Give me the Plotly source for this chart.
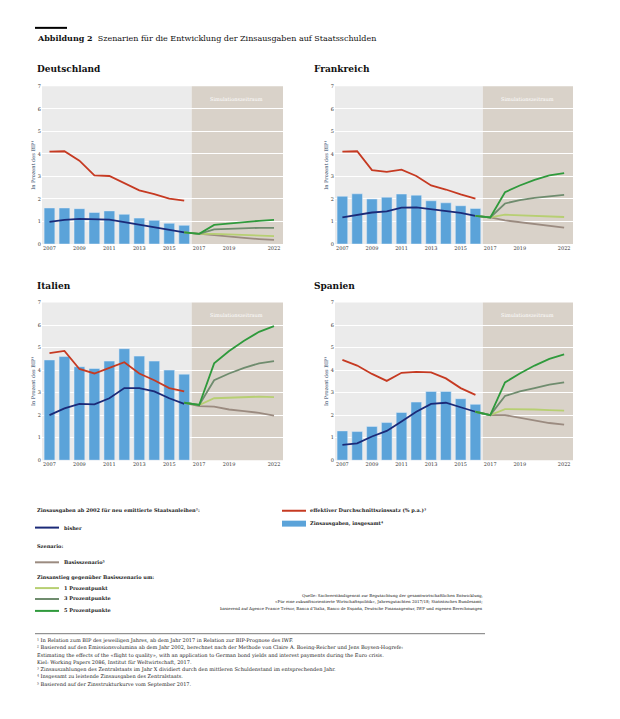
import plotly.graph_objects as go

hist_years = list(range(2007, 2017))
scen_years = list(range(2016, 2023))
countries = ["Deutschland", "Frankreich", "Italien", "Spanien"]

bars = {
    "Deutschland": [1.6, 1.6, 1.57, 1.4, 1.47, 1.32, 1.15, 1.05, 0.92, 0.83],
    "Frankreich": [2.12, 2.23, 2.0, 2.08, 2.22, 2.17, 1.92, 1.83, 1.7, 1.58],
    "Italien": [4.45, 4.6, 4.15, 4.07, 4.4, 4.95, 4.62, 4.4, 4.0, 3.82],
    "Spanien": [1.3, 1.27, 1.5, 1.67, 2.12, 2.58, 3.05, 3.05, 2.73, 2.48],
}
red = {
    "Deutschland": [4.1, 4.12, 3.7, 3.05, 3.02, 2.7, 2.38, 2.22, 2.02, 1.93],
    "Frankreich": [4.1, 4.12, 3.28, 3.2, 3.3, 3.02, 2.6, 2.42, 2.2, 2.02],
    "Italien": [4.75, 4.85, 4.05, 3.85, 4.1, 4.35, 3.85, 3.55, 3.2, 3.05],
    "Spanien": [4.45, 4.2, 3.83, 3.52, 3.88, 3.92, 3.9, 3.63, 3.2, 2.9],
}
bisher = {
    "Deutschland": [0.98, 1.07, 1.12, 1.1, 1.08, 0.97, 0.85, 0.75, 0.63, 0.52],
    "Frankreich": [1.18, 1.3, 1.4, 1.45, 1.62, 1.63, 1.55, 1.48, 1.38, 1.25],
    "Italien": [2.0, 2.3, 2.5, 2.48, 2.75, 3.2, 3.2, 3.05, 2.75, 2.5],
    "Spanien": [0.68, 0.75, 1.05, 1.3, 1.72, 2.15, 2.5, 2.55, 2.35, 2.15],
}
basis = {
    "Deutschland": [0.52, 0.45, 0.38, 0.32, 0.27, 0.22, 0.18],
    "Frankreich": [1.25, 1.18, 1.05, 0.97, 0.88, 0.8, 0.73],
    "Italien": [2.55, 2.4, 2.38, 2.25, 2.18, 2.1, 1.98],
    "Spanien": [2.15, 2.0, 2.0, 1.88, 1.75, 1.65, 1.58],
}
pp1 = {
    "Deutschland": [0.52, 0.45, 0.45, 0.42, 0.4, 0.37, 0.35],
    "Frankreich": [1.25, 1.18, 1.3, 1.28, 1.26, 1.24, 1.2],
    "Italien": [2.55, 2.45, 2.75, 2.78, 2.8, 2.82, 2.8],
    "Spanien": [2.15, 2.0, 2.27, 2.27, 2.25, 2.22, 2.2],
}
pp3 = {
    "Deutschland": [0.52, 0.45, 0.65, 0.68, 0.7, 0.72, 0.72],
    "Frankreich": [1.25, 1.18, 1.8, 1.95, 2.05, 2.13, 2.18],
    "Italien": [2.55, 2.45, 3.55, 3.85, 4.1, 4.3, 4.4],
    "Spanien": [2.15, 2.0, 2.85, 3.05, 3.2, 3.35, 3.45],
}
pp5 = {
    "Deutschland": [0.52, 0.45, 0.85, 0.92, 0.97, 1.03, 1.07],
    "Frankreich": [1.25, 1.18, 2.3, 2.6, 2.85, 3.05, 3.15],
    "Italien": [2.55, 2.45, 4.3, 4.85, 5.3, 5.7, 5.95],
    "Spanien": [2.15, 2.0, 3.45, 3.85, 4.2, 4.5, 4.7],
}
x_ticks = [2007, 2009, 2011, 2013, 2015, 2017, 2019, 2022]
y_ticks = [0, 1, 2, 3, 4, 5, 6, 7]

C_BAR = "#5ba3d9"; C_RED = "#c63a22"; C_BLUE = "#1b2a78"; C_BASE = "#9b8b80"
C_P1 = "#b7cf72"; C_P3 = "#6f8c6e"; C_P5 = "#2f9a3c"
SERIF = "DejaVu Serif"

OFF = 8  # page body margin
W, H = 620 - OFF, 719 - OFF
def px(x): return (x - OFF) / W
def py(y): return 1 - (y - OFF) / H

panels = [
    ("Deutschland", (42, 283), (84, 243), 35, 66),
    ("Frankreich", (335, 573), (84, 243), 312, 66),
    ("Italien", (42, 283), (302, 461), 35, 285),
    ("Spanien", (335, 573), (302, 461), 312, 285),
]

fig = go.Figure()
annotations = []
shapes = []
for i, (c, (x0, x1), (y0, y1), tx, ty) in enumerate(panels):
    sfx = "" if i == 0 else str(i + 1)
    xa, ya = "x" + sfx, "y" + sfx
    fig.add_trace(go.Bar(x=hist_years, y=bars[c], marker_color=C_BAR, width=0.72, xaxis=xa, yaxis=ya, showlegend=False))
    fig.add_trace(go.Scatter(x=hist_years, y=red[c], mode="lines", line=dict(color=C_RED, width=1.8), xaxis=xa, yaxis=ya, showlegend=False))
    fig.add_trace(go.Scatter(x=hist_years, y=bisher[c], mode="lines", line=dict(color=C_BLUE, width=1.8), xaxis=xa, yaxis=ya, showlegend=False))
    for d, col in [(basis, C_BASE), (pp1, C_P1), (pp3, C_P3), (pp5, C_P5)]:
        fig.add_trace(go.Scatter(x=scen_years, y=d[c], mode="lines", line=dict(color=col, width=1.8), xaxis=xa, yaxis=ya, showlegend=False))
    axc = dict(showline=False, zeroline=False, ticks="", tickfont=dict(size=5, family=SERIF, color="#333"))
    fig.update_layout({
        "xaxis" + sfx: dict(axc, domain=[px(x0), px(x1)], range=[2006.5, 2022.6], tickvals=x_ticks, showgrid=False, anchor=ya),
        "yaxis" + sfx: dict(axc, domain=[py(y1), py(y0)], range=[0, 7], tickvals=y_ticks, showgrid=True, gridcolor="white", gridwidth=1, anchor=xa,
                            title=dict(text="In Prozent des BIP¹", font=dict(size=5, family=SERIF), standoff=2)),
    })
    shapes.append(dict(type="rect", xref=xa, yref=ya + " domain", x0=2006.5, x1=2016.5, y0=0, y1=1, fillcolor="#ebebeb", line_width=0, layer="below"))
    shapes.append(dict(type="rect", xref=xa, yref=ya + " domain", x0=2016.5, x1=2022.6, y0=0, y1=1, fillcolor="#d9d2c9", line_width=0, layer="below"))
    annotations.append(dict(xref=xa, yref=ya + " domain", x=2019.5, y=0.95, text="Simulationszeitraum", showarrow=False, font=dict(size=5, color="white", family=SERIF)))
    annotations.append(dict(xref="paper", yref="paper", x=px(tx), y=py(ty), xanchor="left", yanchor="middle", text="<b>" + c + "</b>", showarrow=False, font=dict(size=9, family=SERIF, color="#111")))

# title
shapes.append(dict(type="line", xref="paper", yref="paper", x0=px(35), x1=px(67), y0=py(25), y1=py(25), line=dict(color="black", width=2)))
annotations.append(dict(xref="paper", yref="paper", x=px(35), y=py(35), xanchor="left", yanchor="middle", showarrow=False,
                        text="<b>Abbildung 2</b>  Szenarien für die Entwicklung der Zinsausgaben auf Staatsschulden", font=dict(size=8, family=SERIF, color="#111")))

def text(x, y, t, size=5, anchor="left", bold=False):
    annotations.append(dict(xref="paper", yref="paper", x=px(x), y=py(y), xanchor=anchor, yanchor="middle", showarrow=False,
                            text=("<b>" + t + "</b>") if bold else t, font=dict(size=size, family=SERIF, color="#222"), align=anchor))

def lline(x, y, col, w=2):
    shapes.append(dict(type="line", xref="paper", yref="paper", x0=px(x), x1=px(x + 24), y0=py(y), y1=py(y), line=dict(color=col, width=w)))

text(35, 512, "Zinsausgaben ab 2002 für neu emittierte Staatsanleihen²:", bold=True)
lline(35, 529, C_BLUE); text(62, 529, "bisher", bold=True)
text(35, 548, "Szenario:", bold=True)
lline(35, 564, C_BASE); text(62, 564, "Basisszenario⁵", bold=True)
text(35, 579, "Zinsanstieg gegenüber Basisszenario um:", bold=True)
lline(35, 590, C_P1); text(62, 590, "1 Prozentpunkt", bold=True)
lline(35, 601, C_P3); text(62, 601, "3 Prozentpunkte", bold=True)
lline(35, 613, C_P5); text(62, 613, "5 Prozentpunkte", bold=True)
lline(282, 512, C_RED); text(308, 512, "effektiver Durchschnittszinssatz (% p.a.)³", bold=True)
shapes.append(dict(type="rect", xref="paper", yref="paper", x0=px(282), x1=px(306), y0=py(528), y1=py(522), fillcolor=C_BAR, line_width=0))
text(308, 525, "Zinsausgaben, insgesamt⁴", bold=True)
text(485, 597, "Quelle: Sachverständigenrat zur Begutachtung der gesamtwirtschaftlichen Entwicklung,", size=4, anchor="right")
text(485, 604, "«Für eine zukunftsorientierte Wirtschaftspolitik», Jahresgutachten 2017/18; Statistisches Bundesamt;", size=4, anchor="right")
text(485, 611, "basierend auf Agence France Trésor, Banca d’Italia, Banco de España, Deutsche Finanzagentur, IWF und eigenen Berechnungen", size=4, anchor="right")

shapes.append(dict(type="line", xref="paper", yref="paper", x0=px(35), x1=px(485), y0=py(636), y1=py(636), line=dict(color="#555", width=0.8)))
foot = [
    "¹ In Relation zum BIP des jeweiligen Jahres, ab dem Jahr 2017 in Relation zur BIP-Prognose des IWF.",
    "² Basierend auf den Emissionsvolumina ab dem Jahr 2002, berechnet nach der Methode von Claire A. Boeing-Reicher und Jens Boysen-Hogrefe:",
    "Estimating the effects of the «flight to quality», with an application to German bond yields and interest payments during the Euro crisis.",
    "Kiel: Working Papers 2086, Institut für Weltwirtschaft, 2017.",
    "³ Zinsauszahlungen des Zentralstaats im Jahr X dividiert durch den mittleren Schuldenstand im entsprechenden Jahr.",
    "⁴ Insgesamt zu leistende Zinsausgaben des Zentralstaats.",
    "⁵ Basierend auf der Zinsstrukturkurve vom September 2017.",
]
for k, f in enumerate(foot):
    text(35, 643 + k * 7.3, f, size=5)

fig.update_layout(width=W, height=H, margin=dict(l=0, r=0, t=0, b=0), paper_bgcolor="white", plot_bgcolor="rgba(0,0,0,0)",
                  shapes=shapes, annotations=annotations, bargap=0.2)
fig.write_html("out.html")
